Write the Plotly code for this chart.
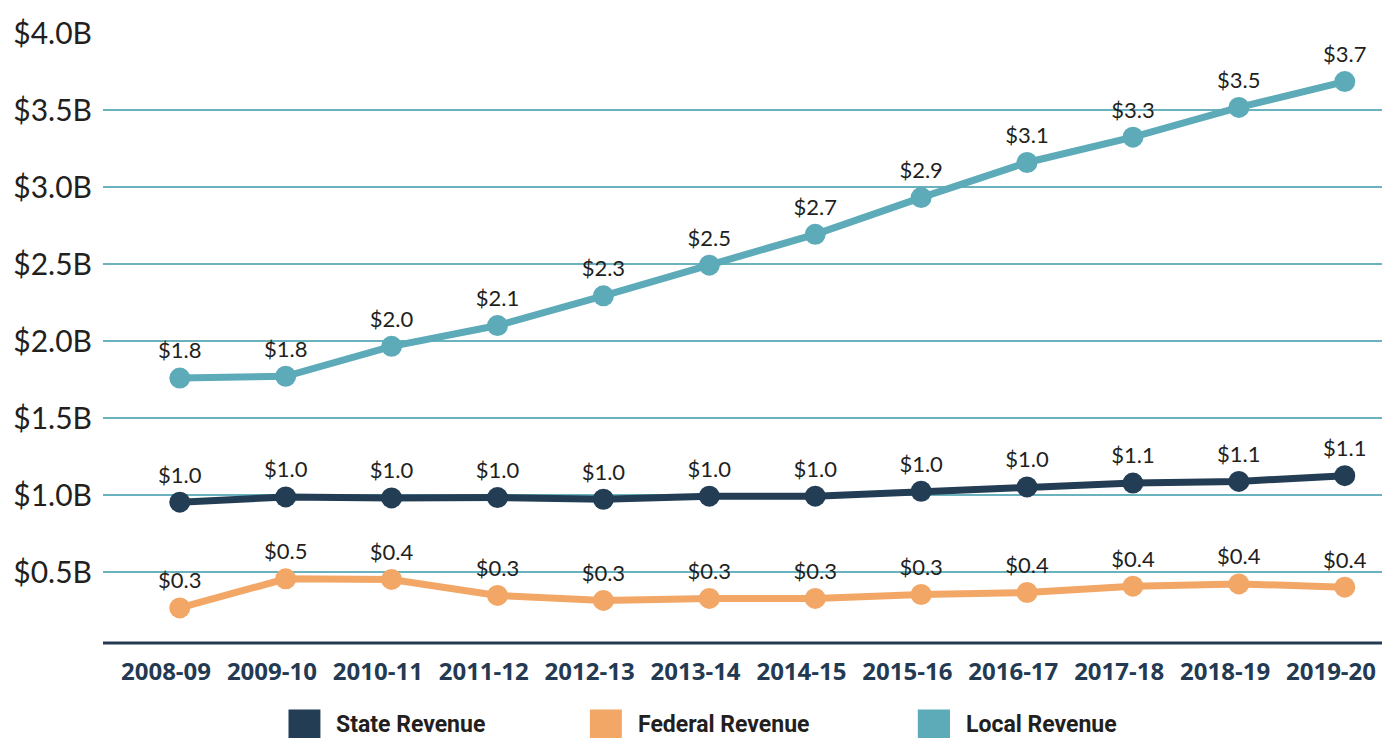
import plotly.graph_objects as go

years = ["2008-09", "2009-10", "2010-11", "2011-12", "2012-13", "2013-14",
         "2014-15", "2015-16", "2016-17", "2017-18", "2018-19", "2019-20"]

state_rev = [0.956, 0.990, 0.984, 0.986, 0.975, 0.995, 0.995, 1.027, 1.055, 1.080, 1.091, 1.128]
federal_rev = [0.270, 0.459, 0.455, 0.351, 0.319, 0.332, 0.332, 0.357, 0.370, 0.411, 0.426, 0.405]
local_rev = [1.761, 1.773, 1.967, 2.102, 2.295, 2.494, 2.694, 2.932, 3.160, 3.324, 3.517, 3.685]

state_labels = ["$1.0", "$1.0", "$1.0", "$1.0", "$1.0", "$1.0", "$1.0", "$1.0", "$1.0", "$1.1", "$1.1", "$1.1"]
federal_labels = ["$0.3", "$0.5", "$0.4", "$0.3", "$0.3", "$0.3", "$0.3", "$0.3", "$0.4", "$0.4", "$0.4", "$0.4"]
local_labels = ["$1.8", "$1.8", "$2.0", "$2.1", "$2.3", "$2.5", "$2.7", "$2.9", "$3.1", "$3.3", "$3.5", "$3.7"]

y_tickvals = [0.5, 1.0, 1.5, 2.0, 2.5, 3.0, 3.5, 4.0]
y_ticktext = ["$0.5B", "$1.0B", "$1.5B", "$2.0B", "$2.5B", "$3.0B", "$3.5B", "$4.0B"]

series = [
    ("State Revenue", state_rev, state_labels, "#233d55"),
    ("Federal Revenue", federal_rev, federal_labels, "#f2a766"),
    ("Local Revenue", local_rev, local_labels, "#5dabb9"),
]

x_idx = list(range(len(years)))
label_shift = 0.13  # category labels sit slightly left of the points in the reference

fig = go.Figure()
for name, vals, labels, color in series:
    fig.add_trace(go.Scatter(
        x=x_idx, y=vals, name=name, mode="lines+markers+text",
        line=dict(color=color, width=7),
        marker=dict(color=color, size=21),
        text=labels, textposition="top center",
        textfont=dict(family="Lato", size=22, color="#231f20"),
        cliponaxis=False, showlegend=False,
    ))

# page body has an 8px margin: figure is offset by 8px in x and y
legend_pos = [(0.1447, 0.1696, 0.1805), (0.3798, 0.4047, 0.4156), (0.6356, 0.6607, 0.6713)]
for (name, vals, labels, color), (x0, x1, xt) in zip(series, legend_pos):
    fig.add_shape(type="rect", xref="paper", yref="paper", x0=x0, x1=x1,
                  y0=-0.1655, y1=-0.1089, fillcolor=color, line=dict(width=0))
    fig.add_annotation(xref="paper", yref="paper", x=xt, y=-0.134, text=name,
                       showarrow=False, xanchor="left", yanchor="middle",
                       font=dict(family="Roboto", size=23, color="#231f20", weight="bold"))

fig.add_shape(type="line", xref="paper", yref="paper", x0=0, x1=1, y0=0, y1=0,
              line=dict(color="#243b53", width=3), layer="below")

fig.update_layout(
    width=1382, height=730,
    margin=dict(l=92, r=5, t=20, b=95),
    paper_bgcolor="white", plot_bgcolor="white",
    xaxis=dict(
        range=[-0.725, 11.38], tickvals=[i - label_shift for i in x_idx], ticktext=years,
        showgrid=False, zeroline=False, showline=False, ticks="",
        tickfont=dict(family="Open Sans", size=24, color="#243a52", weight="bold"),
        ticklabelstandoff=12,
    ),
    yaxis=dict(
        range=[0.0425, 4.0], tickvals=y_tickvals, ticktext=y_ticktext,
        showgrid=True, gridcolor="#6ab2be", gridwidth=1.5, zeroline=False,
        showline=False, ticks="", ticklabelstandoff=10,
        tickfont=dict(family="Lato", size=30, color="#231f20"),
    ),
)

fig.write_html("out.html")
